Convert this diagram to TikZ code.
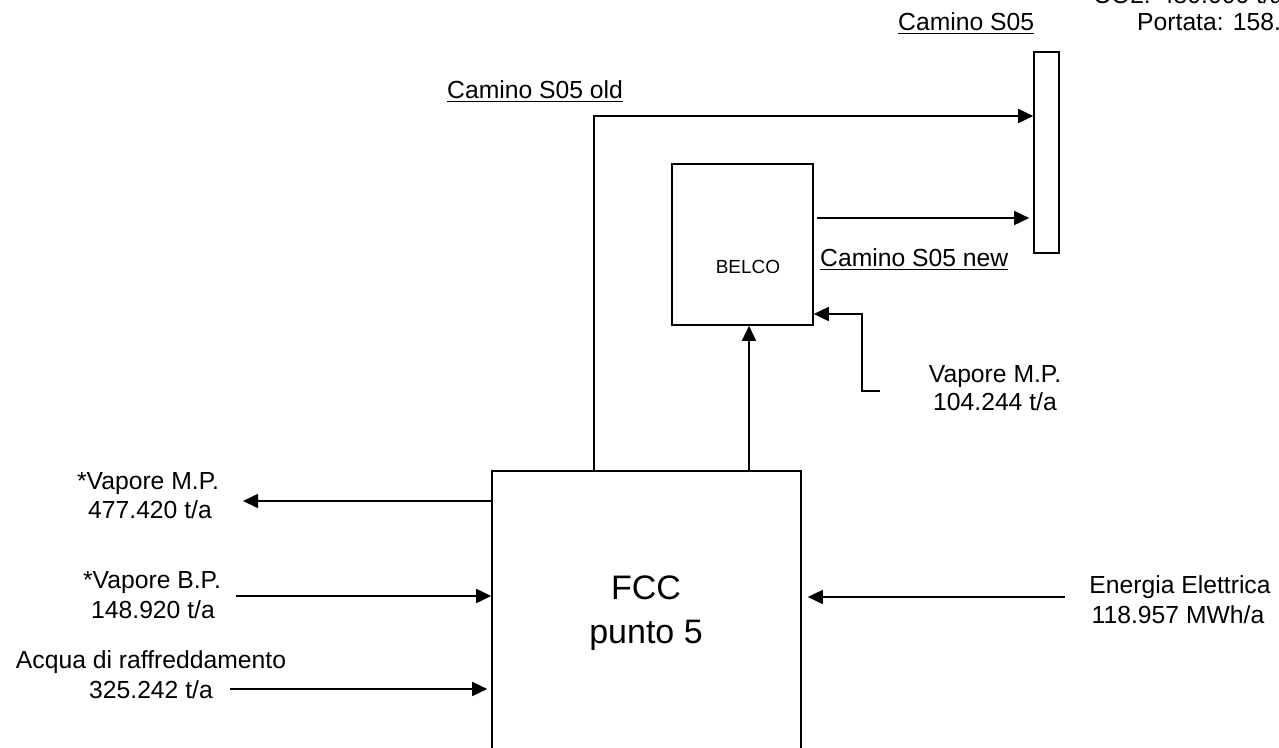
\documentclass[tikz,border=0pt]{standalone}
\usepackage{fontspec}
\setmainfont{Liberation Sans}
\newcommand\myul[1]{\setbox0\hbox{#1}\rlap{\rule[-4.4pt]{\wd0}{1.4pt}}\box0}
\usetikzlibrary{arrows.meta}
\begin{document}
\begin{tikzpicture}[x=1pt,y=-1pt,
  box/.style={draw,line width=1.6pt,inner sep=0pt},
  flow/.style={line width=1.6pt,-{Triangle[length=15pt,width=14pt]}},
  lbl/.style={font=\fontsize{24.7}{29.5}\selectfont,inner sep=0pt,anchor=base},
  lblw/.style={lbl,anchor=base west},
  big/.style={font=\fontsize{34}{40}\selectfont,inner sep=0pt,anchor=base},
  small/.style={font=\fontsize{19}{23}\selectfont,inner sep=0pt,anchor=base}]
\clip (0,0) rectangle (1279,747);
\useasboundingbox (0,0) rectangle (1279,747);

% boxes
\node[box,minimum width=309pt,minimum height=289pt] (fcc) at (646.5,615.5) {};
\node[box,minimum width=141pt,minimum height=161pt] (belco) at (742.5,244.5) {};
\node[box,minimum width=25pt,minimum height=201pt] (stack) at (1046.5,152.5) {};

% box texts
\node[big] (fcct1) at (646,599) {FCC};
\node[big] (fcct2) at (646,643) {punto 5};
\node[small] (belcot) at (748,273) {BELCO};

% labels
\node[lblw] (camino) at (898,30) {\myul{Camino S05}};
\node[lblw] (caminoold) at (447,98) {\myul{Camino S05 old}};
\node[lblw] (caminonew) at (820,266) {\myul{Camino S05 new}};
\node[lblw] (co2) at (1093,3) {CO2: 480.000 t/a};
\node[lblw] (portata) at (1137,30) {Portata: 158.};

\node[lbl] (vmp1) at (995,382) {Vapore M.P.};
\node[lbl] (vmp2) at (995,410) {104.244 t/a};

\node[lbl] (mpo1) at (148,489) {*Vapore M.P.};
\node[lbl] (mpo2) at (150,518) {477.420 t/a};
\node[lbl] (bp1) at (152,588) {*Vapore B.P.};
\node[lbl] (bp2) at (153,618) {148.920 t/a};
\node[lbl] (ac1) at (151,668) {Acqua di raffreddamento};
\node[lbl] (ac2) at (151,698) {325.242 t/a};
\node[lbl] (ee1) at (1180,593) {Energia Elettrica};
\node[lbl] (ee2) at (1178,623) {118.957 MWh/a};

% connector coordinates
\coordinate (mpout) at (243,501);
\coordinate (bpin) at (236,596);
\coordinate (acin) at (230,689);
\coordinate (eein) at (1065,597);
\coordinate (oldx) at (594,116);
\coordinate (upx) at (749,400);
\coordinate (newy) at (817,218);
\coordinate (vmp) at (880,391);
\coordinate (vmpk) at (862,314);

% connectors
\draw[flow] (fcc.west |- mpout) -- (mpout);
\draw[flow] (bpin) -- (bpin -| fcc.west);
\draw[flow] (acin) -- ([xshift=-4pt]acin -| fcc.west);
\draw[flow] (eein) -- ([xshift=6pt]eein -| fcc.east);
\draw[flow] (oldx |- fcc.north) -- (oldx) -- (oldx -| stack.west);
\draw[flow] (upx |- fcc.north) -- (upx |- belco.south);
\draw[flow] (newy) -- ([xshift=-4pt]newy -| stack.west);
\draw[flow] (vmp) -- (vmp -| vmpk) -- (vmpk) -- (vmpk -| belco.east);
\end{tikzpicture}
\end{document}
